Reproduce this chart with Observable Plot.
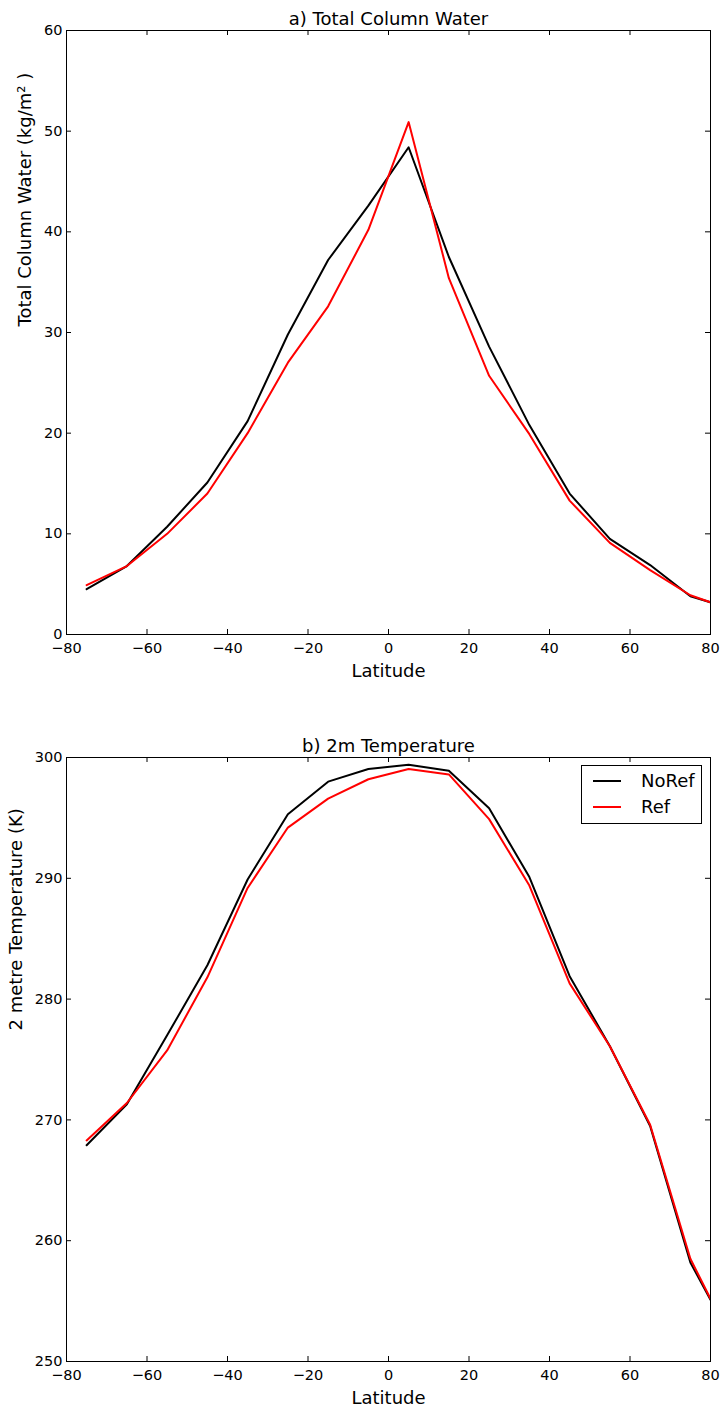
<!DOCTYPE html>
<html>
<head>
<meta charset="utf-8">
<script src="https://cdn.jsdelivr.net/npm/d3@7"></script>
<script src="https://cdn.jsdelivr.net/npm/@observablehq/plot@0.6"></script>
<style>
  html, body { margin: 0; padding: 0; background: #fff; }
  #wrap { position: relative; width: 723px; height: 1408px; font-family: "DejaVu Sans", sans-serif; }
  #wrap svg { display: block; }
  #legend { position: absolute; left: 581px; top: 765px; width: 119px; height: 57px; border: 1px solid #000; background: #fff; }
  #legend .row { position: absolute; left: 0; height: 20px; }
  #legend .sw { position: absolute; left: 11px; width: 28px; height: 2px; }
  #legend .lb { position: absolute; left: 59px; font-size: 18px; line-height: 18px; color: #000; }
</style>
</head>
<body>
<div id="wrap"></div>
<script>
// ---- data ----
const latitudes = [-75, -65, -55, -45, -35, -25, -15, -5, 5, 15, 25, 35, 45, 55, 65, 75, 80];
const seriesNames = ["NoRef", "Ref"];
const seriesColors = ["#000000", "#ff0000"];
const tcwNoRef = [4.5, 6.8, 10.7, 15.1, 21.2, 29.8, 37.2, 42.6, 48.4, 37.5, 28.6, 20.8, 14.0, 9.5, 6.9, 3.8, 3.2];
const tcwRef   = [4.9, 6.8, 10.0, 14.0, 20.0, 27.0, 32.6, 40.2, 50.9, 35.4, 25.7, 19.9, 13.3, 9.1, 6.4, 3.9, 3.2];
const t2mNoRef = [267.9, 271.3, 277.0, 282.8, 289.9, 295.3, 298.0, 299.05, 299.4, 298.9, 295.8, 290.1, 281.9, 276.1, 269.5, 258.2, 255.1];
const t2mRef   = [268.3, 271.4, 275.75, 281.8, 289.2, 294.2, 296.6, 298.2, 299.05, 298.6, 294.9, 289.4, 281.3, 276.1, 269.6, 258.5, 255.2];
const xTicks = [-80, -60, -40, -20, 0, 20, 40, 60, 80];
const tcwTicks = [0, 10, 20, 30, 40, 50, 60];
const t2mTicks = [250, 260, 270, 280, 290, 300];
const titleA = "a) Total Column Water";
const titleB = "b) 2m Temperature";
const xLabel = "Latitude";
const yLabelA = "Total Column Water (kg/m² )";
const yLabelB = "2 metre Temperature (K)";

function table(a, b) {
  const rows = [];
  latitudes.forEach((lat, i) => rows.push({lat, v: a[i], s: seriesNames[0]}));
  latitudes.forEach((lat, i) => rows.push({lat, v: b[i], s: seriesNames[1]}));
  return rows;
}

function panel({rows, yDomain, yTicks, title, yLabel, height, marginTop, marginBottom, yLabelDx, yLabelDy}) {
  const marginLeft = 66, marginRight = 13, width = 723;
  const fh = height - marginTop - marginBottom;
  const fw = width - marginLeft - marginRight;
  const tick = 5;
  return Plot.plot({
    width, height, marginLeft, marginRight, marginTop, marginBottom,
    style: {fontFamily: "DejaVu Sans", fontSize: "14.5px", color: "#000", background: "#fff"},
    x: {domain: [-80, 80], label: null},
    y: {domain: yDomain, label: null},
    color: {domain: seriesNames, range: seriesColors},
    marks: [
      Plot.line(rows, {x: "lat", y: "v", stroke: "s", z: "s", strokeWidth: 2, clip: true}),
      Plot.frame({stroke: "#000", strokeWidth: 1}),
      Plot.tickX(xTicks, {x: d => d, insetTop: fh - tick, stroke: "#000"}),
      Plot.tickX(xTicks, {x: d => d, insetBottom: fh - tick, stroke: "#000"}),
      Plot.tickY(yTicks, {y: d => d, insetRight: fw - tick, stroke: "#000"}),
      Plot.tickY(yTicks, {y: d => d, insetLeft: fw - tick, stroke: "#000"}),
      Plot.axisX({ticks: xTicks, tickSize: 0, tickPadding: 8, label: null, fontSize: 14.5}),
      Plot.axisY({ticks: yTicks, tickSize: 0, tickPadding: 4, label: null, fontSize: 14.5}),
      Plot.text([title], {text: d => d, frameAnchor: "top", lineAnchor: "bottom", dy: -6, fontSize: 18, fill: "#000"}),
      Plot.text([xLabel], {text: d => d, frameAnchor: "bottom", lineAnchor: "bottom", dy: 42, fontSize: 18, fill: "#000"}),
      Plot.text([yLabel], {text: d => d, frameAnchor: "left", rotate: -90, lineAnchor: "bottom", dx: yLabelDx, dy: yLabelDy, fontSize: 18, fill: "#000"})
    ]
  });
}

const wrap = document.getElementById("wrap");
wrap.appendChild(panel({
  rows: table(tcwNoRef, tcwRef), yDomain: [0, 60], yTicks: tcwTicks, title: titleA, yLabel: yLabelA,
  height: 700, marginTop: 30, marginBottom: 66, yLabelDx: -36, yLabelDy: -6
}));
wrap.appendChild(panel({
  rows: table(t2mNoRef, t2mRef), yDomain: [250, 300], yTicks: t2mTicks, title: titleB, yLabel: yLabelB,
  height: 708, marginTop: 57, marginBottom: 47, yLabelDx: -44.5, yLabelDy: -29
}));

// legend
const legend = document.createElement("div");
legend.id = "legend";
seriesNames.forEach((name, i) => {
  const row = document.createElement("div");
  row.className = "row";
  row.style.top = (i === 0 ? 6 : 32) + "px";
  const sw = document.createElement("div");
  sw.className = "sw";
  sw.style.top = "8px";
  sw.style.background = seriesColors[i];
  const lb = document.createElement("div");
  lb.className = "lb";
  lb.style.top = "0px";
  lb.textContent = name;
  row.appendChild(sw);
  row.appendChild(lb);
  legend.appendChild(row);
});
wrap.appendChild(legend);
</script>
</body>
</html>
